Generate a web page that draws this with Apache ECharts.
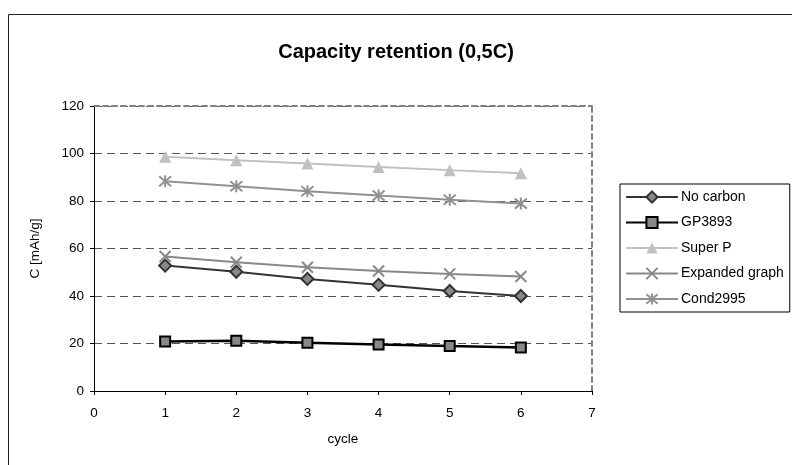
<!DOCTYPE html>
<html>
<head>
<meta charset="utf-8">
<script src="https://cdn.jsdelivr.net/npm/echarts@6/dist/echarts.min.js"></script>
<style>
  html, body { margin: 0; padding: 0; background: #fff; }
  #chart { width: 792px; height: 465px; }
</style>
</head>
<body>
<div id="chart"></div>
<script>
// values
var cycles = [1, 2, 3, 4, 5, 6];
var noCarbon = [52.8, 50.2, 47.2, 44.7, 42.1, 40.0];
var gp3893 = [20.8, 21.2, 20.3, 19.6, 18.9, 18.3];
var superP = [98.6, 97.2, 95.8, 94.3, 93.0, 91.7];
var expandedGraph = [56.6, 54.2, 52.1, 50.5, 49.3, 48.2];
var cond2995 = [88.3, 86.2, 84.1, 82.3, 80.5, 78.9];
var seriesNames = ['No carbon', 'GP3893', 'Super P', 'Expanded graph', 'Cond2995'];

var FONT = 'Liberation Sans, Arial, sans-serif';

function pairs(ys) {
  return cycles.map(function (c, i) { return [c, ys[i]]; });
}

var crossPath = 'path://M0,0L10,10M10,0L0,10';
var starPath = 'path://M0,1L10,11M10,1L0,11M5,0L5,12';

var chart = echarts.init(document.getElementById('chart'), null, { renderer: 'canvas' });

var option = {
  backgroundColor: '#fff',
  animation: false,
  textStyle: { fontFamily: FONT },
  title: {
    text: 'Capacity retention (0,5C)',
    left: 'center',
    top: 37,
    textStyle: { fontFamily: FONT, fontSize: 20, fontWeight: 'bold', color: '#000' }
  },
  // outer chart frame (right / bottom edges are outside the window)
  graphic: [{
    type: 'rect',
    shape: { x: 8.5, y: 14.5, width: 900, height: 600 },
    style: { fill: null, stroke: '#222', lineWidth: 1 },
    silent: true
  }],
  legend: {
    data: seriesNames,
    orient: 'vertical',
    left: 620,
    top: 184,
    padding: [6, 6, 6, 5],
    itemWidth: 52,
    itemHeight: 14,
    itemGap: 11.5,
    borderColor: '#000',
    borderWidth: 1,
    textStyle: { fontFamily: FONT, fontSize: 14, color: '#000', padding: [0, 0, 0, -2] }
  },
  grid: { left: 94, right: 200, top: 106, bottom: 74, containLabel: false },
  xAxis: [{
    type: 'value',
    min: 0, max: 7, interval: 1,
    name: 'cycle',
    nameLocation: 'middle',
    nameGap: 41,
    nameTextStyle: { fontFamily: FONT, fontSize: 13.5, color: '#000' },
    axisLine: { show: true, onZero: false, lineStyle: { color: '#000', width: 1 } },
    axisTick: { show: true, length: 4, lineStyle: { color: '#000' } },
    axisLabel: { margin: 15, fontFamily: FONT, fontSize: 13.5, color: '#000' },
    splitLine: { show: false }
  }, {
    type: 'value',
    position: 'top',
    min: 0, max: 7, interval: 1,
    axisLine: { show: true, onZero: false, lineStyle: { color: '#808080', width: 2, type: [5, 4] } },
    axisTick: { show: false },
    axisLabel: { show: false },
    splitLine: { show: false }
  }],
  yAxis: [{
    type: 'value',
    min: 0, max: 120, interval: 20,
    name: 'C [mAh/g]',
    nameLocation: 'middle',
    nameGap: 52,
    nameRotate: 90,
    nameTextStyle: { fontFamily: FONT, fontSize: 13.5, color: '#000' },
    axisLine: { show: true, onZero: false, lineStyle: { color: '#000', width: 1 } },
    axisTick: { show: true, length: 4, lineStyle: { color: '#000' } },
    axisLabel: { margin: 10, fontFamily: FONT, fontSize: 13.5, color: '#000' },
    splitLine: { show: true, lineStyle: { color: '#555', width: 1, type: [8, 5] } }
  }, {
    type: 'value',
    position: 'right',
    min: 0, max: 120, interval: 20,
    axisLine: { show: true, onZero: false, lineStyle: { color: '#808080', width: 2, type: [5, 4] } },
    axisTick: { show: false },
    axisLabel: { show: false },
    splitLine: { show: false }
  }],
  series: [{
    name: 'No carbon',
    type: 'line',
    data: pairs(noCarbon),
    symbol: 'diamond',
    symbolSize: 12,
    lineStyle: { color: '#333', width: 2 },
    itemStyle: { color: '#888', borderColor: '#333', borderWidth: 2 },
    z: 3
  }, {
    name: 'GP3893',
    type: 'line',
    data: pairs(gp3893),
    symbol: 'rect',
    symbolSize: 10,
    lineStyle: { color: '#000', width: 2.5 },
    itemStyle: { color: '#888', borderColor: '#000', borderWidth: 2 },
    z: 3
  }, {
    name: 'Super P',
    type: 'line',
    data: pairs(superP),
    symbol: 'triangle',
    symbolSize: 12,
    lineStyle: { color: '#c0c0c0', width: 2 },
    itemStyle: { color: '#c0c0c0', borderWidth: 0 },
    z: 3
  }, {
    name: 'Expanded graph',
    type: 'line',
    data: pairs(expandedGraph),
    symbol: crossPath,
    symbolSize: 11,
    lineStyle: { color: '#888', width: 2 },
    itemStyle: { color: '#888', borderColor: '#888', borderWidth: 2 },
    z: 3
  }, {
    name: 'Cond2995',
    type: 'line',
    data: pairs(cond2995),
    symbol: starPath,
    symbolSize: 12,
    lineStyle: { color: '#919191', width: 2 },
    itemStyle: { color: '#919191', borderColor: '#919191', borderWidth: 2 },
    z: 3
  }]
};

chart.setOption(option);
</script>
</body>
</html>
